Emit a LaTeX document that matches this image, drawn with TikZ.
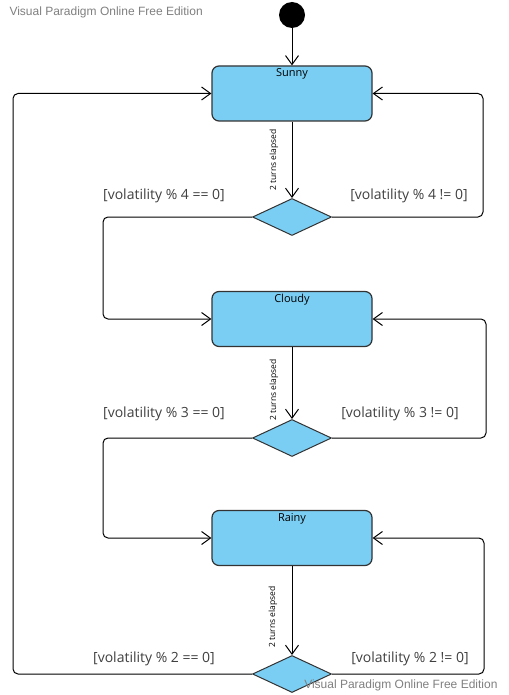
\documentclass[tikz,border=0pt]{standalone}
\usepackage{fontspec}
\setmainfont{Open Sans}
\newfontfamily\wmfont{Liberation Sans}
\usetikzlibrary{arrows.meta,shapes.geometric}
\definecolor{statefill}{RGB}{122,206,244}
\definecolor{wmgray}{RGB}{128,128,128}
\begin{document}
\begin{tikzpicture}[x=1pt,y=-1pt,
 state/.style={draw=black!80, fill=statefill, rounded corners=7pt, minimum width=160pt, minimum height=55pt, line width=1.2pt, inner sep=0},
 choice/.style={diamond, draw=black!80, fill=statefill, minimum width=79pt, minimum height=37pt, inner sep=0, line width=1pt},
 flow/.style={line width=1pt, -{Straight Barb[length=9pt,width=13pt,line width=1pt]}, rounded corners=5pt},
 slabel/.style={anchor=north, inner sep=0, yshift=-3pt, font=\fontsize{11}{13}\selectfont},
 guard/.style={font=\fontsize{14}{16}\selectfont, text=black!75},
 trig/.style={font=\fontsize{8.5}{9}\selectfont, rotate=90},
 wm/.style={font=\wmfont\fontsize{12}{14}\selectfont, text=wmgray}]
\useasboundingbox (0,0) rectangle (508,695);
\fill[white] (0,0) rectangle (508,695);

\node[circle, fill=black, minimum size=26pt, inner sep=0] (start) at (292,15) {};
\node[state, label={[slabel]north:Sunny}] (sunny) at (292,93.5) {};
\node[choice] (d1) at (292,217) {};
\node[state, label={[slabel]north:Cloudy}] (cloudy) at (292,319) {};
\node[choice] (d2) at (292,438) {};
\node[state, label={[slabel]north:Rainy}] (rainy) at (292,538) {};
\node[choice] (d3) at (292,674) {};

\draw[flow] (start) -- (sunny);
\draw[flow] (sunny) -- (d1);
\draw[flow] (d1.east) -| (483,93.5) -- (sunny.east);
\draw[flow] (d1.west) -| (103,319) -- (cloudy.west);
\draw[flow] (cloudy) -- (d2);
\draw[flow] (d2.east) -| (486,319) -- (cloudy.east);
\draw[flow] (d2.west) -| (103,538) -- (rainy.west);
\draw[flow] (rainy) -- (d3);
\draw[flow] (d3.east) -| (484,538) -- (rainy.east);
\draw[flow] (d3.west) -| (13,93.5) -- (sunny.west);

\node[trig] (t1) at (274,160) {2 turns elapsed};
\node[trig] (t2) at (274,390) {2 turns elapsed};
\node[trig] (t3) at (273,617) {2 turns elapsed};

\node[guard] (g4a) at (164,196) {[volatility \% 4 == 0]};
\node[guard] (g4b) at (409,196) {[volatility \% 4 != 0]};
\node[guard] (g3a) at (164,414) {[volatility \% 3 == 0]};
\node[guard] (g3b) at (400,414) {[volatility \% 3 != 0]};
\node[guard] (g2a) at (154,659) {[volatility \% 2 == 0]};
\node[guard] (g2b) at (410,659) {[volatility \% 2 != 0]};

\node[wm, anchor=west] (wm1) at (6,12) {Visual Paradigm Online Free Edition};
\node[wm, anchor=east] (wm2) at (501,685) {Visual Paradigm Online Free Edition};
\end{tikzpicture}
\end{document}
